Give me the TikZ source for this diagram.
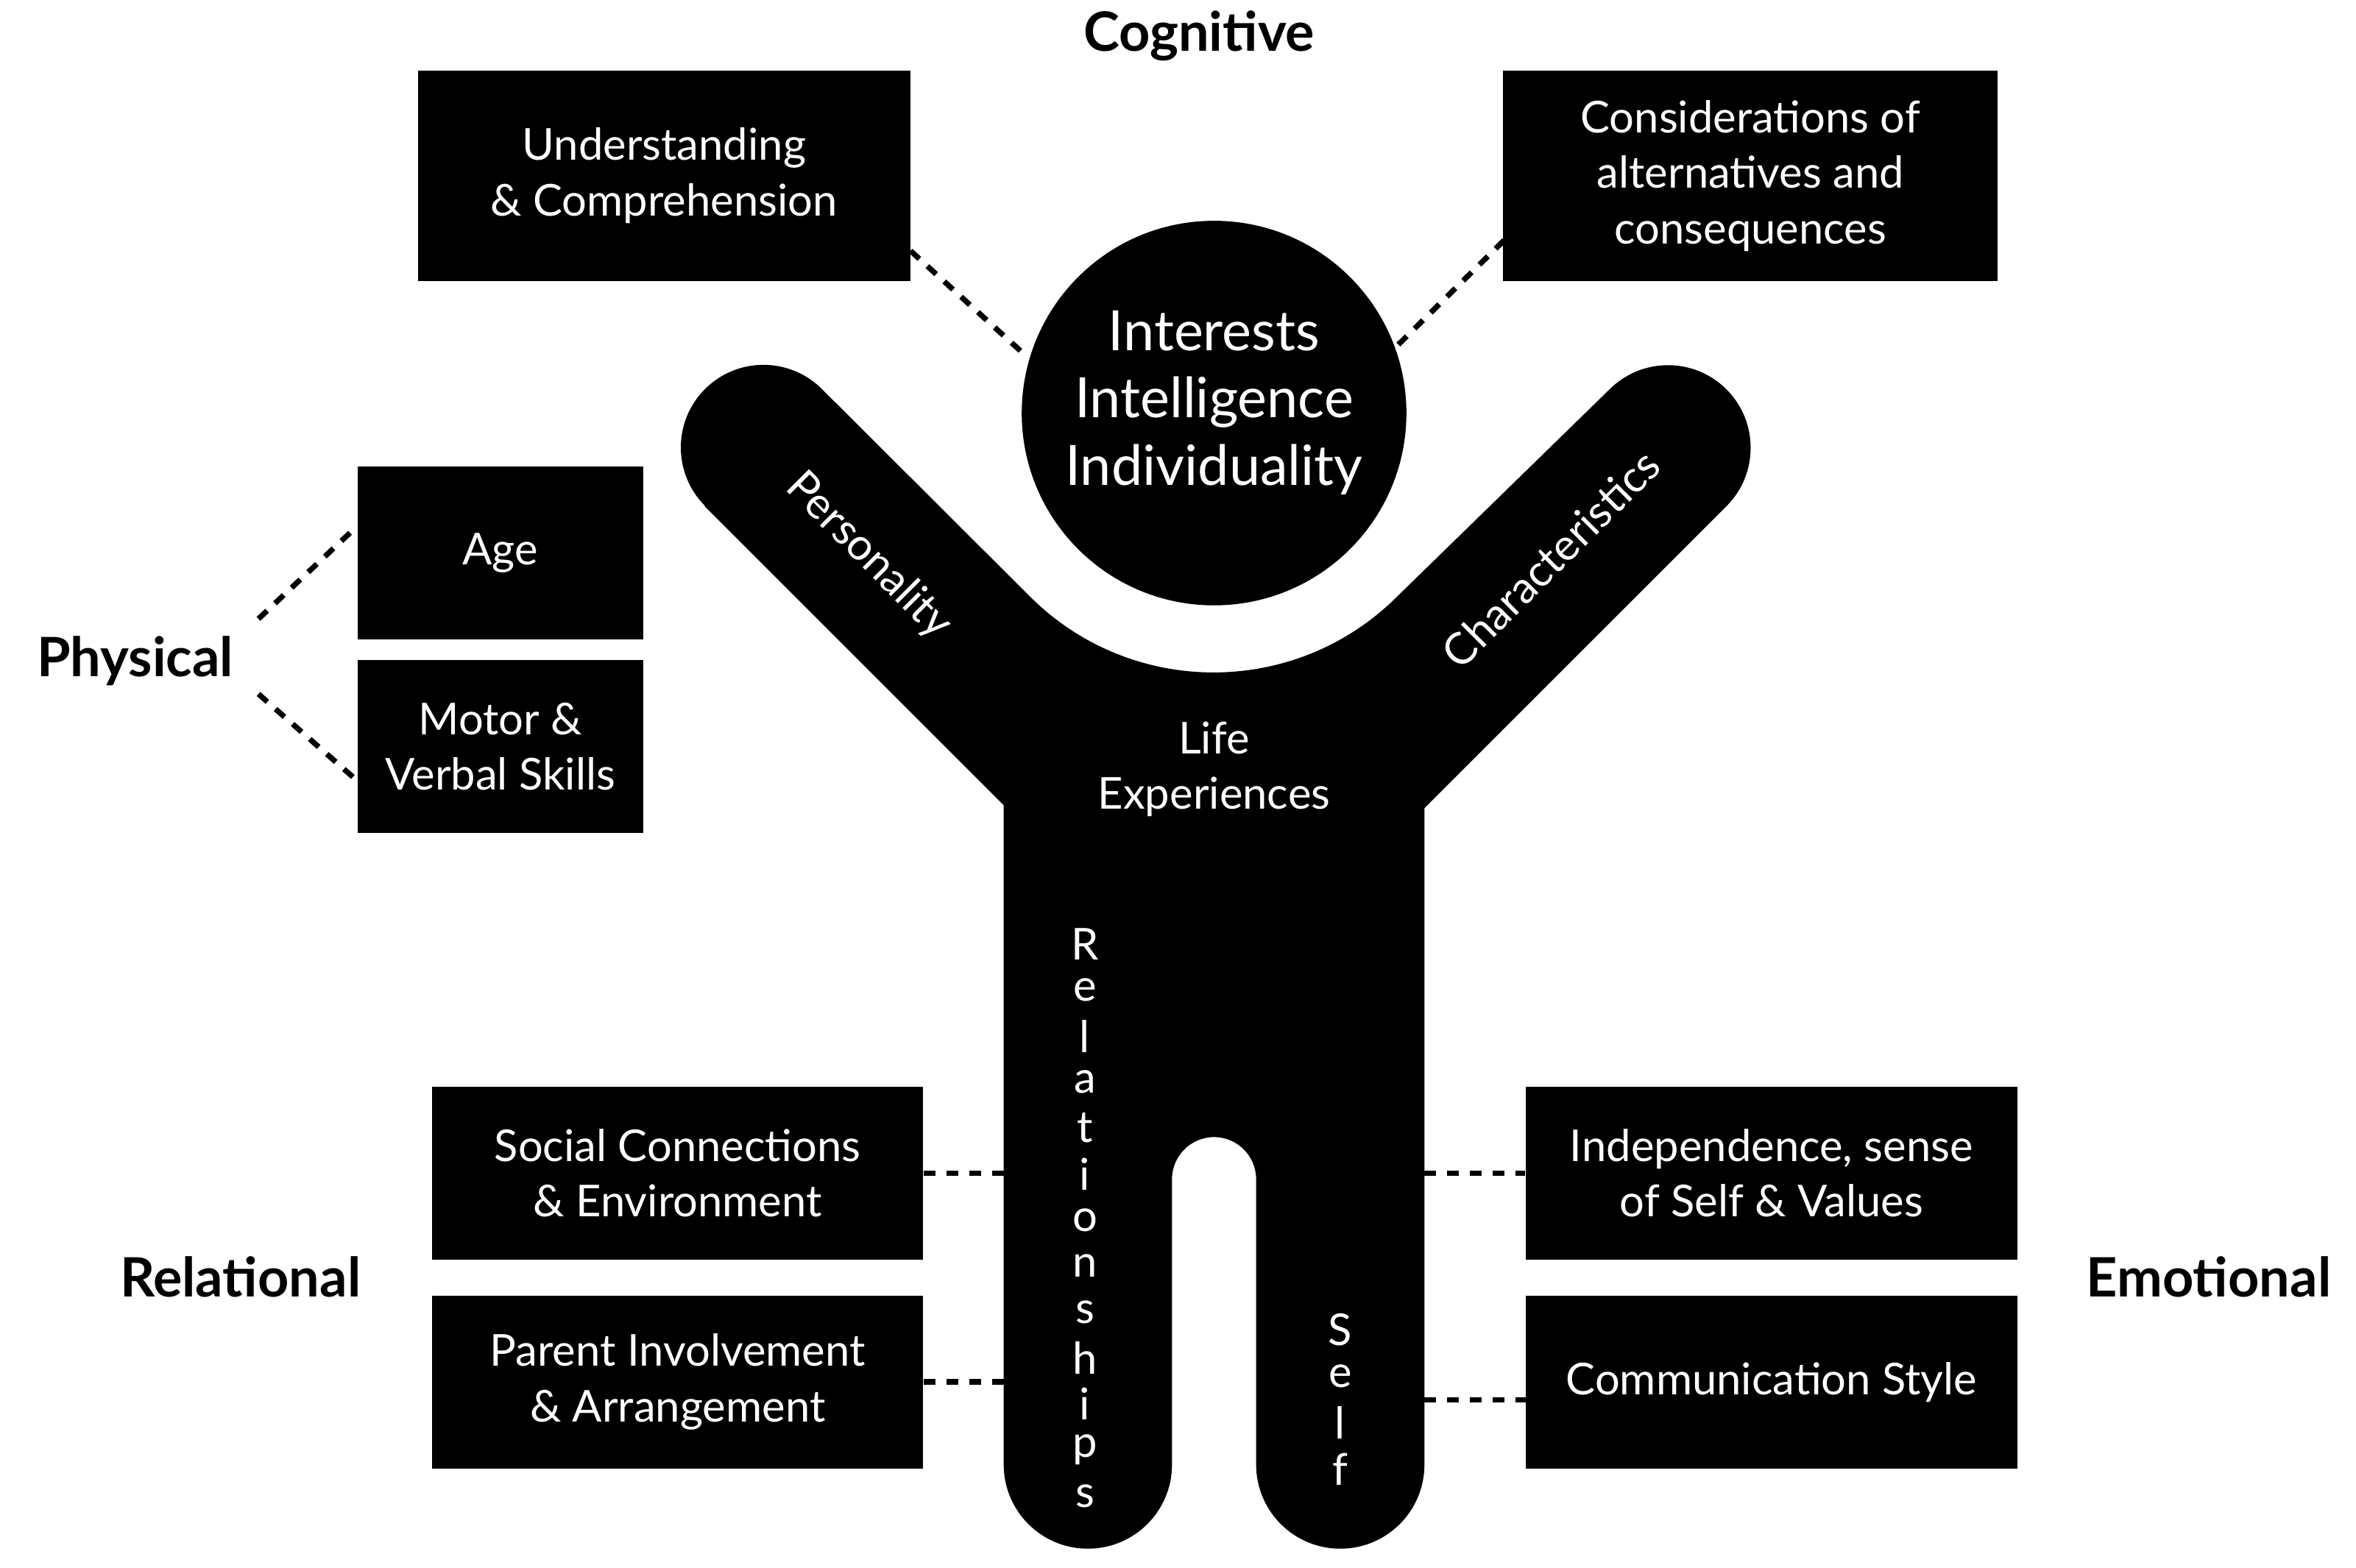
\documentclass[tikz,border=0pt]{standalone}
\usepackage{fontspec}
\setmainfont{Lato}
\def\uu{0.020414cm}
\begin{document}
\begin{tikzpicture}[x=0.020414cm,y=-0.020414cm,
  box/.style 2 args={fill=black,text=white,align=center,font=\fontsize{17}{21.5}\selectfont,minimum width=#1*\uu,minimum height=#2*\uu,inner sep=0pt},
  lab/.style={font=\bfseries\fontsize{21}{25}\selectfont},
  wt/.style={text=white,font=\fontsize{17}{21.5}\selectfont,align=center},
  dsh/.style={dash pattern=on 4.6pt off 4.2pt,line width=2.1pt}]
\useasboundingbox (0,0) rectangle (1568,1043.4);
% body
\fill (469,337) -- (668,536) -- (668,975) arc (180:0:56) -- (780,785) arc (180:360:28)
  -- (836,975) arc (180:0:56) -- (948,538) -- (1149,337) arc (45:-135:55)
  -- (930,397) arc (45:135:173) -- (547,259) arc (-45:-225:55) -- cycle;
\fill (808,275) circle (128);
\node[wt,font=\fontsize{21.5}{26}\selectfont] (head) at (808,268) {Interests\\Intelligence\\Individuality};
\node[wt,rotate=-45] (pers) at (578,370) {Personality};
\node[wt,rotate=45] (char) at (1032,372) {Characteristics};
\node[wt] (life) at (808,512) {Life\\Experiences};
\foreach \l [count=\i] in {R,e,l,a,t,i,o,n,s,h,i,p,s}
  \node[wt,inner sep=0pt] (r\i) at (722,598+30.6*\i) {\l};
\foreach \l [count=\i] in {S,e,l,f}
  \node[wt,inner sep=0pt] (s\i) at (892,854+31*\i) {\l};
% boxes
\node[box={328}{140}] (b1) at (442,117) {Understanding\\\& Comprehension};
\node[box={329}{140}] (b2) at (1165,117) {Considerations of\\alternatives and\\consequences};
\node[box={190}{115}] (b3) at (333,368) {Age};
\node[box={190}{115}] (b4) at (333,497) {Motor \&\\Verbal Skills};
\node[box={327}{115}] (b5) at (451,781) {Social Connections\\\& Environment};
\node[box={327}{115}] (b6) at (451,920) {Parent Involvement\\\& Arrangement};
\node[box={327}{115}] (b7) at (1179,781) {Independence, sense\\of Self \& Values};
\node[box={327}{115}] (b8) at (1179,920) {Communication Style};
% labels
\node[lab] (cog) at (798,24) {Cognitive};
\node[lab] (phy) at (90,440) {Physical};
\node[lab] (rel) at (160,850) {Relational};
\node[lab] (emo) at (1470,850) {Emotional};
% connector ends
\coordinate (h1) at (684,238);
\coordinate (h2) at (928,232);
\coordinate (e1) at (606,167);
\coordinate (e2) at (1001,160);
\coordinate (p1) at (172,412);
\coordinate (p2) at (172,462);
\coordinate (a1) at (238,350);
\coordinate (a2) at (238,520);
\coordinate (bl1) at (668,781);
\coordinate (bl2) at (668,920);
\coordinate (br1) at (948,781);
\coordinate (br2) at (948,932);
\coordinate (c8) at (1016,932);
\draw[dsh] (e1) -- (h1);
\draw[dsh] (e2) -- (h2);
\draw[dsh] (p1) -- (a1);
\draw[dsh] (p2) -- (a2);
\draw[dsh] (b5.east) -- (bl1);
\draw[dsh] (b6.east) -- (bl2);
\draw[dsh] (br1) -- (b7.west);
\draw[dsh] (br2) -- (c8);
\end{tikzpicture}
\end{document}
